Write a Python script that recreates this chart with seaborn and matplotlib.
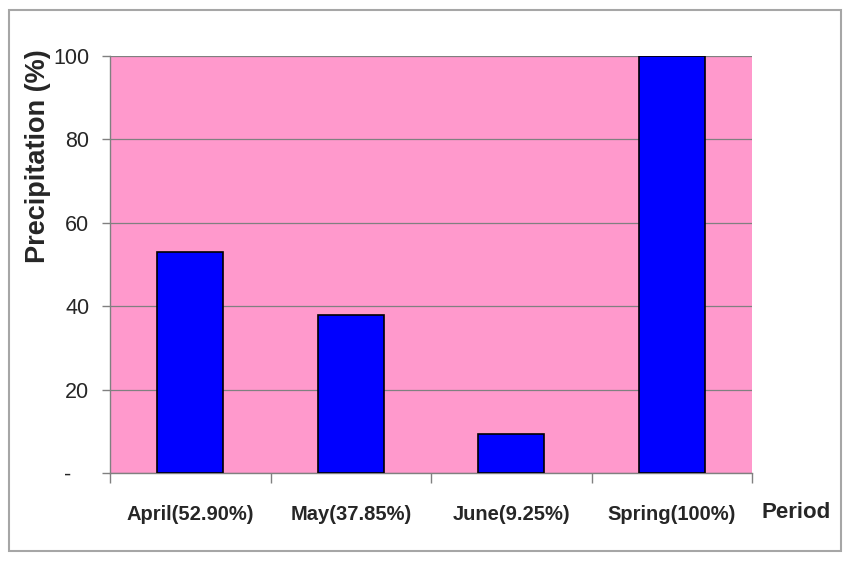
import matplotlib
matplotlib.use("Agg")
import matplotlib.pyplot as plt
import matplotlib.font_manager as fm
from matplotlib.patches import Rectangle
from matplotlib.ticker import FixedLocator, FixedFormatter
import seaborn as sns

periods = ["April(52.90%)", "May(37.85%)", "June(9.25%)", "Spring(100%)"]
precip = [52.90, 37.85, 9.25, 100.0]
y_ticks = [0, 20, 40, 60, 80, 100]
y_tick_labels = ["-   ", "20", "40", "60", "80", "100"]

installed = {f.name for f in fm.fontManager.ttflist}
narrow = "Liberation Sans Narrow" if "Liberation Sans Narrow" in installed else "Liberation Sans"

sns.set_style("white")
plt.rcParams["font.family"] = ["Liberation Sans", "DejaVu Sans"]

fig = plt.figure(figsize=(8.48, 5.61), dpi=100)
ax = fig.add_axes([110 / 848, 1 - 473 / 561, 642 / 848, 417 / 561])
ax.set_facecolor("#ff99cc")

sns.barplot(x=periods, y=precip, color="#0000ff", edgecolor="black",
            linewidth=1.2, width=0.41, saturation=1, ax=ax, zorder=3)

ax.set_xlim(-0.5, 3.5)
ax.set_ylim(0, 100)
ax.yaxis.set_major_locator(FixedLocator(y_ticks))
ax.yaxis.set_major_formatter(FixedFormatter(y_tick_labels))
ax.grid(axis="y", color="#808080", linewidth=0.9, zorder=0)
ax.set_axisbelow(True)

for side in ["top", "right"]:
    ax.spines[side].set_visible(False)
for side in ["left", "bottom"]:
    ax.spines[side].set_color("#808080")
    ax.spines[side].set_linewidth(1.0)

ax.tick_params(axis="y", left=True, direction="out", length=6, width=1,
               color="#808080", pad=9, labelsize=15.5)
for lbl in ax.get_yticklabels():
    lbl.set_family([narrow, "DejaVu Sans"])

# category labels centred, tick marks on the boundaries
ax.set_xticks([-0.5, 0.5, 1.5, 2.5, 3.5], minor=True)
ax.tick_params(axis="x", which="minor", bottom=True, direction="out",
               length=7, width=1, color="#808080")
ax.tick_params(axis="x", which="major", bottom=True, length=0, pad=23,
               labelsize=14.5)
for lbl in ax.get_xticklabels():
    lbl.set_family([narrow, "DejaVu Sans"])
    lbl.set_fontweight("bold")

ax.set_xlabel("")
ax.set_ylabel("")
fig.text(38 / 848, 1 - 156 / 561, "Precipitation (%)", rotation=90,
         ha="center", va="center", fontsize=19.5, fontweight="bold")
fig.text(796 / 848, 1 - 513 / 561, "Period", ha="center", va="center",
         fontsize=16, fontweight="bold")

fig.patches.append(Rectangle((9 / 848, 1 - 551 / 561), 832 / 848, 541 / 561,
                             transform=fig.transFigure, fill=False,
                             edgecolor="#a6a6a6", linewidth=1.5))

fig.savefig("out.png", dpi=100, facecolor="white")
